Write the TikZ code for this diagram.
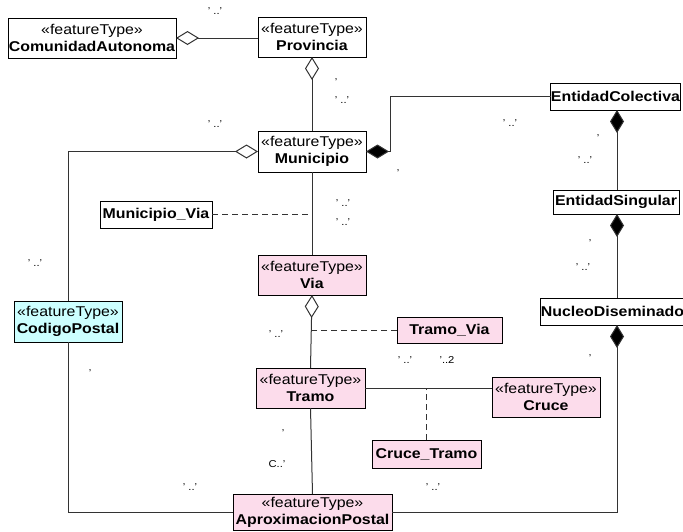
\documentclass[tikz,border=0pt]{standalone}
\usepackage{fontspec}
\setmainfont[FakeStretch=1.12]{Liberation Sans}
\usetikzlibrary{arrows.meta}
\definecolor{ftpink}{HTML}{FCDCEB}
\definecolor{ftcyan}{HTML}{CCFFFF}
\definecolor{wire}{HTML}{333333}
\tikzset{
  cls/.style={draw=black, line width=1pt, fill=white, inner sep=0pt, outer sep=0pt,
    align=center, font=\fontsize{14.2}{17}\selectfont},
  pinkcls/.style={cls, fill=ftpink},
  cyancls/.style={cls, fill=ftcyan},
  wire/.style={draw=wire, line width=1pt},
  dashwire/.style={wire, dash pattern=on 6pt off 4pt},
  agg/.style={{Diamond[length=23pt, width=14pt, fill=white]}-},
  comp/.style={{Diamond[length=23pt, width=14pt, fill=black]}-},
  mult/.style={inner sep=0pt, font=\fontsize{10}{10}\selectfont}
}
\newcommand{\ft}[1]{«featureType»\\\textbf{#1}}
\begin{document}
\begin{tikzpicture}[x=1pt, y=-1pt]
\useasboundingbox (0,0) rectangle (683,531);

% classes
\node[cls, minimum width=168pt, minimum height=40pt] (ca) at (92,38) {\ft{ComunidadAutonoma}};
\node[cls, minimum width=108pt, minimum height=40pt] (prov) at (312,37) {\ft{Provincia}};
\node[cls, minimum width=108pt, minimum height=41pt] (mun) at (312,151.5) {\ft{Municipio}};
\node[cls, minimum width=129pt, minimum height=27pt] (ec) at (615.5,96.5) {\textbf{EntidadColectiva}};
\node[cls, minimum width=126pt, minimum height=24pt] (es) at (616,202) {\textbf{EntidadSingular}};
\node[cls, minimum width=139pt, minimum height=27pt] (nd) at (612.5,311.5) {\textbf{NucleoDiseminado}};
\node[cyancls, minimum width=108pt, minimum height=41pt] (cp) at (68,321.5) {\ft{CodigoPostal}};
\node[cls, minimum width=112pt, minimum height=27pt] (mv) at (156,214.5) {\textbf{Municipio\_Via}};
\node[pinkcls, minimum width=108pt, minimum height=40pt] (via) at (312,275) {\ft{Via}};
\node[pinkcls, minimum width=105pt, minimum height=26pt] (tv) at (449.5,330) {\textbf{Tramo\_Via}};
\node[pinkcls, minimum width=109pt, minimum height=40pt] (tramo) at (310.5,388) {\ft{Tramo}};
\node[pinkcls, minimum width=108pt, minimum height=40pt] (cruce) at (546,397) {\ft{Cruce}};
\node[pinkcls, minimum width=109pt, minimum height=28pt] (ct) at (426.5,454) {\textbf{Cruce\_Tramo}};
\node[pinkcls, minimum width=159pt, minimum height=36pt] (ap) at (312.5,512) {\ft{AproximacionPostal}};

\coordinate (rail) at (617,0);

% associations
\draw[wire, agg] (ca.east) -- (ca.east -| prov.west);
\draw[wire, agg] (prov.south) -- (mun.north);
\draw[wire, agg] (mun.west) -| (cp.north);
\draw[wire, comp] (mun.east) -- ++(24,0) |- (ec.west);
\draw[wire, comp] (ec.south -| rail) -- (es.north -| rail);
\draw[wire, comp] (es.south -| rail) -- (nd.north -| rail);
\draw[wire, comp] (nd.south -| rail) |- (ap.east);
\draw[wire] (cp.south) |- (ap.west);
\draw[wire] (mun.south) -- (via.north);
\draw[wire, agg] (via.south) -- (tramo.north);
\draw[wire] (tramo.east) -- (tramo.east -| cruce.west);
\draw[wire] (tramo.south) -- (ap.north);

% association classes
\draw[dashwire] (mv.east) -- (mv.east -| mun.south);
\draw[dashwire] (tv.west) -- (tv.west -| via.south);
\draw[dashwire] (ct.north) -- (ct.north |- tramo.east);

% multiplicities
\node[mult] (m1) at (215,11) {' ..'};
\node[mult] (m2) at (336,82) {'};
\node[mult] (m3) at (342,100) {' ..'};
\node[mult] (m4) at (215,124) {' ..'};
\node[mult] (m5) at (398,173) {'};
\node[mult] (m6) at (510,123) {' ..'};
\node[mult] (m7) at (598,138) {'};
\node[mult] (m8) at (585,160) {' ..'};
\node[mult] (m9) at (590,243) {'};
\node[mult] (m10) at (583,267) {' ..'};
\node[mult] (m11) at (590,358) {'};
\node[mult] (m12) at (343,203) {' ..'};
\node[mult] (m13) at (343,222) {' ..'};
\node[mult] (m14) at (35,263) {' ..'};
\node[mult] (m15) at (90,373) {'};
\node[mult] (m16) at (276,334) {' ..'};
\node[mult] (m17) at (405,360) {' ..'};
\node[mult] (m18) at (447,360) {'..2};
\node[mult] (m19) at (283,433) {'};
\node[mult] (m20) at (277,464) {C..'};
\node[mult] (m21) at (433,487) {' ..'};
\node[mult] (m22) at (190,487) {' ..'};
\end{tikzpicture}
\end{document}
